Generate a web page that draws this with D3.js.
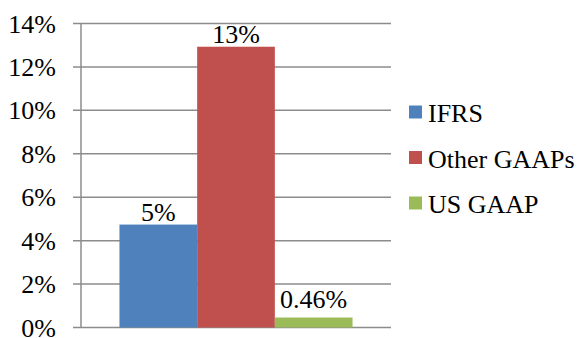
<!DOCTYPE html>
<html>
<head>
  <meta charset="utf-8">
  <script src="https://d3js.org/d3.v7.min.js"></script>
</head>
<body style="margin:0">
  <script>
    // data
    var series = ["IFRS", "Other GAAPs", "US GAAP"];
    var values = [0.0474, 0.1293, 0.0046];
    var labels = ["5%", "13%", "0.46%"];
    var colors = ["#4F81BD", "#C0504D", "#9BBB59"];
    var yTicks = [0, 0.02, 0.04, 0.06, 0.08, 0.10, 0.12, 0.14];

    var width = 578, height = 338;
    var plotL = 81, plotR = 391, plotT = 23.5, plotB = 327.5;

    var svg = d3.select("body").append("svg")
      .attr("width", width)
      .attr("height", height);

    function serifText(sel) {
      return sel.attr("font-size", 26)
        .style("font-family", "'Times New Roman'");
    }

    var y = d3.scaleLinear().domain([0, 0.14]).range([plotB, plotT]);

    // gridlines + tick marks
    svg.selectAll("line.grid")
      .data(yTicks)
      .enter().append("line")
        .attr("class", "grid")
        .attr("x1", plotL - 8)
        .attr("x2", plotR)
        .attr("y1", function (d) { return y(d); })
        .attr("y2", function (d) { return y(d); })
        .attr("stroke", "#8c8c8c")
        .attr("stroke-width", 1.5);

    svg.append("line")
      .attr("x1", plotL).attr("x2", plotL)
      .attr("y1", plotT).attr("y2", plotB)
      .attr("stroke", "#8c8c8c")
      .attr("stroke-width", 1.5);

    svg.selectAll("text.tick")
      .data(yTicks)
      .enter().append("text")
        .attr("class", "tick")
        .attr("x", 56)
        .attr("y", function (d) { return y(d) + 9; })
        .attr("text-anchor", "end")
        .call(serifText)
        .text(function (d) { return d3.format(".0%")(d); });

    // one category, three series side by side
    var outer = d3.scaleBand().domain(["all"]).range([plotL, plotR]).paddingInner(0).paddingOuter(0.165);
    var x = d3.scaleBand().domain(series).range([outer("all"), outer("all") + outer.bandwidth()]);

    svg.selectAll("rect.bar")
      .data(series)
      .enter().append("rect")
        .attr("class", "bar")
        .attr("x", function (d) { return x(d); })
        .attr("width", x.bandwidth())
        .attr("y", function (d, i) { return y(values[i]); })
        .attr("height", function (d, i) { return y(0) - y(values[i]); })
        .attr("fill", function (d, i) { return colors[i]; });

    svg.selectAll("text.lbl")
      .data(series)
      .enter().append("text")
        .attr("class", "lbl")
        .attr("x", function (d) { return x(d) + x.bandwidth() / 2; })
        .attr("y", function (d, i) { return Math.min(y(values[i]) - 4, y(0) - 20); })
        .attr("text-anchor", "middle")
        .call(serifText)
        .text(function (d, i) { return labels[i]; });

    // legend
    var lg = svg.selectAll("g.legend")
      .data(series)
      .enter().append("g")
        .attr("class", "legend")
        .attr("transform", function (d, i) { return "translate(409," + (112 + i * 45.5) + ")"; });

    lg.append("rect")
      .attr("x", 0).attr("y", -6.5)
      .attr("width", 13).attr("height", 13)
      .attr("fill", function (d, i) { return colors[i]; });

    lg.append("text")
      .attr("x", 19)
      .attr("y", 10)
      .call(serifText)
      .text(function (d) { return d; });
  </script>
</body>
</html>
